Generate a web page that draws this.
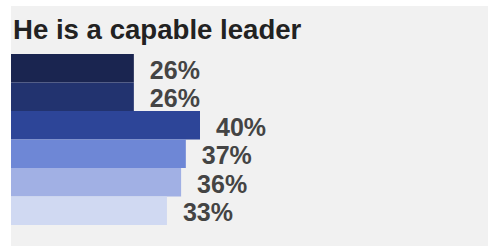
<!DOCTYPE html>
<html>
<head>
<meta charset="utf-8">
<script src="https://cdn.jsdelivr.net/npm/d3@7"></script>
<style>
  body { margin: 0; background: #fff; }
  svg { display: block; font-family: "Liberation Sans", Arial, sans-serif; }
</style>
</head>
<body>
<script>
const TITLE = "He is a capable leader";
const GROUPS = ["g1", "g2", "g3", "g4", "g5", "g6"];
const VALUES = [26, 26, 40, 37, 36, 33];
const COLORS = ["#1a2550", "#22336f", "#2d4598", "#6e87d6", "#a1b0e4", "#d0d9f2"];

const width = 488,
  height = 246,
  left = 11;

const svg = d3
  .select("body")
  .append("svg")
  .attr("width", width)
  .attr("height", height);

svg
  .append("rect")
  .attr("x", left)
  .attr("y", 6)
  .attr("width", width - left)
  .attr("height", height - 6)
  .attr("fill", "#f1f1f1");

svg
  .append("text")
  .attr("x", 13)
  .attr("y", 39)
  .attr("font-size", 27.6)
  .attr("font-weight", "bold")
  .attr("fill", "#222")
  .text(TITLE);

const xScale = d3
  .scaleLinear()
  .domain([0, 40])
  .range([left, left + 189]);

const yScale = d3
  .scaleBand()
  .domain(GROUPS)
  .range([54, 225])
  .padding(0);

const data = GROUPS.map((g, i) => ({ g: g, v: VALUES[i], c: COLORS[i] }));

svg
  .append("g")
  .selectAll("rect")
  .data(data)
  .enter()
  .append("rect")
  .attr("x", xScale(0))
  .attr("y", d => yScale(d.g))
  .attr("width", d => xScale(d.v) - xScale(0))
  .attr("height", yScale.bandwidth())
  .attr("fill", d => d.c);

svg
  .append("g")
  .selectAll("text")
  .data(data)
  .enter()
  .append("text")
  .attr("x", d => xScale(d.v) + 16)
  .attr("y", d => yScale(d.g) + yScale.bandwidth() - 4)
  .attr("font-size", 25)
  .attr("font-weight", "bold")
  .attr("fill", "#444")
  .text(d => d.v + "%");
</script>
</body>
</html>
